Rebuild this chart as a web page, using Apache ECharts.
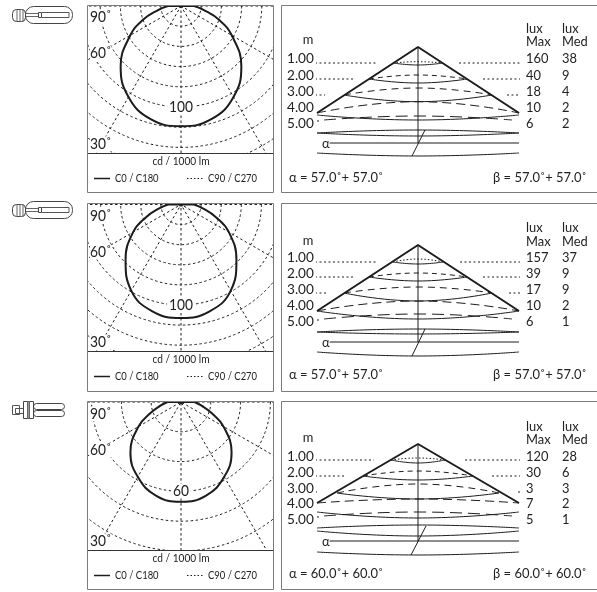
<!DOCTYPE html>
<html><head><meta charset="utf-8">
<style>html,body{margin:0;padding:0;background:#fff;width:597px;height:592px;overflow:hidden}
div{position:absolute}</style>
<script src="https://cdn.jsdelivr.net/npm/echarts@6/dist/echarts.min.js"></script>
</head><body>
<div id="main" style="left:0;top:0;width:597px;height:592px"></div>
<script>
// Polar intensity, cd / 1000 lm
const angles = [0,15,30,45,60,70,80,90];
const intensity1 = [119,116,104,84.5,58,40,23,13];
const intensity2 = [113,110,99,78,55,37,22,13];
const intensity3 = [67,65,58,48,33,22,14,9];
const ringLabels = ['100','100','60'];
const radiusMax = [200,200,140];
const ringStep = [20,20,20];
// Cone tables
const distances = ['1.00','2.00','3.00','4.00','5.00'];
const luxMax1 = ['160','40','18','10','6'];
const luxMed1 = ['38','9','4','2','2'];
const luxMax2 = ['157','39','17','10','6'];
const luxMed2 = ['37','9','9','2','1'];
const luxMax3 = ['120','30','3','7','5'];
const luxMed3 = ['28','6','3','2','1'];
const alphaText = ['α = 57.0˚+ 57.0˚','α = 57.0˚+ 57.0˚','α = 60.0˚+ 60.0˚'];
const betaText = ['β = 57.0˚+ 57.0˚','β = 57.0˚+ 57.0˚','β = 60.0˚+ 60.0˚'];
// Cone drawing, in diagram units measured from the apex
const halfWidth1 = [25,49,74,101], halfWidth2 = [25,49,74,101], halfWidth3 = [27,55,81,101];
const rimDepth1 = [16,32,48,66], rimDepth2 = [17,32,48,66], rimDepth3 = [16,32,49,59];
const frontEnd1 = [16,32,48,68], frontEnd2 = [17,32,48,66], frontEnd3 = [16,32,49,68];
const frontMid1 = [18,36,54.7,73], frontMid2 = [19,36,56,74], frontMid3 = [19,36,55,74];
const backMid1 = [14.7,28,41,54.7,69], backMid2 = [14,28,42,56,69], backMid3 = [14,27,40,55,68];
const backEnd5 = [73,74,72];
const lensTop1 = [86,83], lensTop2 = [87,84], lensTop3 = [84,81];
const lensBot1 = [86,89], lensBot2 = [87,89], lensBot3 = [87,92];
const floorLine = [96,97,97];
const floorArc1 = [106,109], floorArc2 = [107,111], floorArc3 = [108,111];
const slant1 = [[7,83],[-6,109]], slant2 = [[7,84],[-6,111]], slant3 = [[8,82],[-7,111]];
const leaderLeft1 = [-40,-63,-93], leaderLeft2 = [-41,-64,-90], leaderLeft3 = [-44,-72,-100];
const leaderRight1 = [41,65,89], leaderRight2 = [42,65,91], leaderRight3 = [47,74,100];
const leaderDepth1 = [16,32,48], leaderDepth2 = [17,32,48], leaderDepth3 = [16,32,48];

const FONT = 'Lato';
const INK = '#1c1c1c', GREY = '#7b7b7b';
const layout = [
 {icon:'t', iconY:0, boxTop:5, plotBottom:153, boxBottom:192, apex:47, centerY:6, labY:[17,53,144], ringY:107, cdY:161, legY:178,
  mY:39, luxY:28, maxY:41, rows:[58,75,91,107,123], alphaY:143, botY:178},
 {icon:'t', iconY:195, boxTop:203, plotBottom:351, boxBottom:391, apex:245, centerY:204.5, labY:[216,252,342], ringY:305, cdY:359, legY:376,
  mY:240, luxY:227, maxY:241, rows:[257,273,289,305,321], alphaY:342, botY:375},
 {icon:'p', iconY:395, boxTop:401, plotBottom:550, boxBottom:589, apex:444, centerY:402, labY:[414,450,541], ringY:491, cdY:558, legY:575,
  mY:437, luxY:426, maxY:439, rows:[456,472,488,503,519], alphaY:541, botY:574}
];
const panels = [
 {i:intensity1,max:luxMax1,med:luxMed1,hw:halfWidth1,rim:rimDepth1,fe:frontEnd1,fm:frontMid1,bm:backMid1,lt:lensTop1,lb:lensBot1,fa:floorArc1,sl:slant1,ll:leaderLeft1,lr:leaderRight1,ld:leaderDepth1},
 {i:intensity2,max:luxMax2,med:luxMed2,hw:halfWidth2,rim:rimDepth2,fe:frontEnd2,fm:frontMid2,bm:backMid2,lt:lensTop2,lb:lensBot2,fa:floorArc2,sl:slant2,ll:leaderLeft2,lr:leaderRight2,ld:leaderDepth2},
 {i:intensity3,max:luxMax3,med:luxMed3,hw:halfWidth3,rim:rimDepth3,fe:frontEnd3,fm:frontMid3,bm:backMid3,lt:lensTop3,lb:lensBot3,fa:floorArc3,sl:slant3,ll:leaderLeft3,lr:leaderRight3,ld:leaderDepth3}
];

const txt = (x,y,s,o={}) => ({type:'text',x,y,scaleX:o.sx||0.92,silent:true,z:5,style:Object.assign({text:s,fill:'#222',font:`${o.size||14}px ${FONT}`,align:o.align||'left',verticalAlign:'middle'},o.style||{})});
const rect = (x,y,w,h,o={}) => ({type:'rect',silent:true,z:o.z||1,shape:{x,y,width:w,height:h,r:o.r||0},style:{fill:o.fill||'none',stroke:o.stroke||GREY,lineWidth:o.lw||1}});
const seg = (x1,y1,x2,y2,o={}) => ({type:'line',silent:true,z:o.z||2,shape:{x1,y1,x2,y2},style:{stroke:o.stroke||INK,lineWidth:o.lw||1,lineDash:o.dash||null}});

function lampIcon(kind,dy){
  if(kind==='t') return [
    rect(25.5,6.5+dy,47,17,{r:8,stroke:'#444'}),
    rect(12.5,9.5+dy,13,12,{r:4,stroke:'#444'}),
    seg(17,10+dy,17,21+dy,{stroke:'#666'}),seg(20,9+dy,20,22+dy,{stroke:'#666'}),seg(23,9+dy,23,22+dy,{stroke:'#666'}),
    seg(26,13.5+dy,38,13.5+dy,{stroke:'#666'}),seg(26,16.5+dy,38,16.5+dy,{stroke:'#666'}),
    rect(38.5,12.5+dy,3,5,{stroke:'#444'}),
    seg(42,12.5+dy,69,12.5+dy,{stroke:'#555'}),seg(42,17.5+dy,69,17.5+dy,{stroke:'#555'}),seg(69,12.5+dy,69,17.5+dy,{stroke:'#555'})
  ];
  return [
    rect(12.5,10.5+dy,7,9,{stroke:'#555'}),
    rect(15.5,13.5+dy,8,5,{stroke:'#555'}),
    rect(23.5,6.5+dy,10,17,{stroke:'#444'}),
    rect(27.5,6.5+dy,2,17,{stroke:'#666',fill:'#999'}),
    rect(33.5,8.5+dy,31,6,{r:3,stroke:'#444'}),
    rect(33.5,15.5+dy,31,6,{r:3,stroke:'#444'})
  ];
}

// ---- main instance: boxes, text, cone diagrams
const graphic = [];
const grid = [], xAxis = [], yAxis = [], series = [];
const thin = {color:INK,width:1};
function add(gi,name,pts,style,smooth){
  series.push({type:'line',name,xAxisIndex:gi,yAxisIndex:gi,data:pts,showSymbol:false,symbol:'none',smooth:smooth?0.5:false,
    clip:false,silent:true,animation:false,lineStyle:style,z:3});
}
layout.forEach((L,k)=>{
  const P = panels[k];
  graphic.push(...lampIcon(L.icon,L.iconY));
  graphic.push(rect(87.5,L.boxTop+.5,186,L.boxBottom-L.boxTop));
  graphic.push(rect(281.5,L.boxTop+.5,320,L.boxBottom-L.boxTop));
  graphic.push(seg(88,L.plotBottom+.5,273,L.plotBottom+.5,{stroke:'#333',z:6}));
  graphic.push(txt(181,L.cdY,'cd / 1000 lm',{size:11.5,sx:0.88,align:'center'}));
  graphic.push(seg(94,L.legY+.5,110,L.legY+.5,{lw:1.5}));
  graphic.push(txt(115,L.legY,'C0 / C180',{size:11.5,sx:0.82}));
  graphic.push(seg(187,L.legY+.5,203,L.legY+.5,{dash:[1.5,2]}));
  graphic.push(txt(208,L.legY,'C90 / C270',{size:11.5,sx:0.82}));
  graphic.push(txt(308,L.mY,'m',{align:'center'}));
  graphic.push(txt(526,L.luxY,'lux'),txt(526,L.maxY,'Max'),txt(562,L.luxY,'lux'),txt(562,L.maxY,'Med'));
  distances.forEach((d,r)=>{
    graphic.push(txt(287,L.rows[r],d,{sx:0.97}),txt(526,L.rows[r],P.max[r]),txt(562,L.rows[r],P.med[r]));
  });
  graphic.push(txt(322,L.alphaY,'α',{style:{backgroundColor:'#fff'}}));
  graphic.push(txt(289,L.botY,alphaText[k],{size:13.5,sx:0.96}));
  graphic.push(txt(493,L.botY,betaText[k],{size:13.5,sx:0.96}));

  grid.push({left:316.5,top:L.apex,width:203,height:115});
  xAxis.push({type:'value',gridIndex:k,min:-101.5,max:101.5,show:false});
  yAxis.push({type:'value',gridIndex:k,min:0,max:115,inverse:true,show:false});

  add(k,'cone',[[-P.hw[3],P.rim[3]],[0,0],[P.hw[3],P.rim[3]]],{color:INK,width:2});
  add(k,'axis',[[0,0],[0,floorLine[k]]],thin);
  const backDash = [[1.5,2],[5,4],[7,5],[9,5],[12,6]];
  P.fm.forEach((m,r)=>{
    add(k,'front',[[-P.hw[r],P.fe[r]],[0,m],[P.hw[r],P.fe[r]]],thin,true);
  });
  P.bm.forEach((m,r)=>{
    const w = r<4?P.hw[r]:94, e = r<4?P.rim[r]:backEnd5[k];
    add(k,'back',[[-w,e],[0,m],[w,e]],{color:INK,width:1,type:backDash[r]},true);
  });
  add(k,'lensTop',[[-101,P.lt[0]],[0,P.lt[1]],[101,P.lt[0]]],thin,true);
  add(k,'lensBot',[[-101,P.lb[0]],[0,P.lb[1]],[101,P.lb[0]]],thin,true);
  add(k,'floor',[[-91,floorLine[k]],[101,floorLine[k]]],thin);
  add(k,'arc',[[-101,P.fa[0]],[0,P.fa[1]],[101,P.fa[0]]],thin,true);
  add(k,'slant',P.sl,thin);
  const dots = {color:INK,width:1,type:[2,2.5]};
  P.ld.forEach((d,r)=>{
    add(k,'leader',[[-103,d],[P.ll[r],d]],dots);
    add(k,'leader',[[P.lr[r],d],[104,d]],dots);
  });
  add(k,'tick',[[-101,backEnd5[k]+1],[-99,backEnd5[k]+1]],dots);
});
const main = echarts.init(document.getElementById('main'),null,{renderer:'canvas'});
main.setOption({animation:false,graphic,grid,xAxis,yAxis,series});

// ---- one polar instance per panel, its canvas being the plot area
layout.forEach((L,k)=>{
  const el = document.createElement('div');
  const top = L.boxTop+1, h = L.plotBottom-top;
  el.style.cssText = `left:88px;top:${top}px;width:185px;height:${h}px`;
  document.body.appendChild(el);
  const vals = panels[k].i;
  const cx = 93, cy = L.centerY-top;
  const pxPerCd = k===2 ? 1.49 : (k===1 ? 1.005 : 1.01);
  const ptsLeft = angles.map((a,i)=>[vals[i],a]);
  const ptsRight = angles.map((a,i)=>[vals[i],(360-a)%360]).reverse();
  const curve = ptsRight.concat(ptsLeft.slice(1));
  const chart = echarts.init(el);
  const ringMask = {backgroundColor:'#fff',padding:[0,2]};
  const lab = (y,s)=>txt(2,y-top,s,{size:14.5,sx:0.95,style:{backgroundColor:'#fff'}});
  chart.setOption({
    animation:false,
    polar:{center:[cx,cy],radius:radiusMax[k]*pxPerCd},
    angleAxis:{type:'value',min:0,max:360,startAngle:270,clockwise:true,interval:30,
      axisLine:{show:false},axisTick:{show:false},axisLabel:{show:false},
      splitLine:{show:true,lineStyle:{color:INK,width:1,type:[2.5,2.5]}}},
    radiusAxis:{type:'value',min:0,max:radiusMax[k],interval:ringStep[k],
      axisLine:{show:false},axisTick:{show:false},axisLabel:{show:false},
      splitLine:{show:true,lineStyle:{color:INK,width:1,type:[2.5,2.5]}}},
    graphic:[
      lab(L.labY[0],'90˚'),lab(L.labY[1],'60˚'),lab(L.labY[2],'30˚'),
      txt(cx,L.ringY-top,ringLabels[k],{size:14.5,sx:0.95,align:'center',style:ringMask})
    ],
    series:[
      {type:'line',name:'C90 / C270',coordinateSystem:'polar',data:curve,smooth:0.45,symbol:'none',silent:true,z:2,
       lineStyle:{color:INK,width:1,type:[1.5,2]}},
      {type:'line',name:'C0 / C180',coordinateSystem:'polar',data:curve,smooth:0.45,symbol:'none',silent:true,z:3,
       lineStyle:{color:INK,width:2}},
      {type:'line',name:'top',coordinateSystem:'polar',data:[[vals[7],270],[0,0],[vals[7],90]],symbol:'none',silent:true,z:3,
       lineStyle:{color:INK,width:2}},
      {type:'scatter',name:'source',coordinateSystem:'polar',data:[[0,0]],symbolSize:4.5,silent:true,z:4,itemStyle:{color:INK}}
    ]
  });
});
</script>
</body></html>
